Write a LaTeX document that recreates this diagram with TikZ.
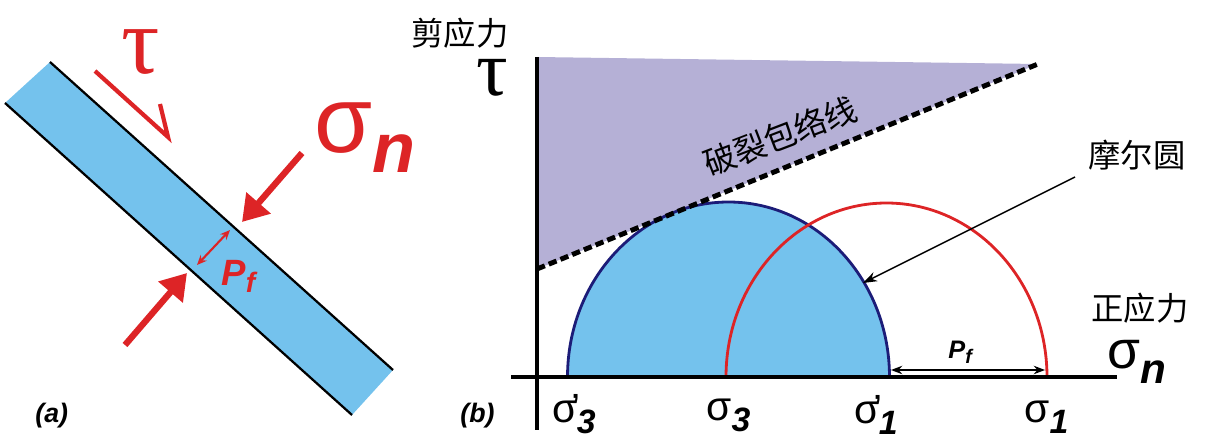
\documentclass[tikz,border=0pt]{standalone}
\usepackage{fontspec}
\setmainfont{Liberation Sans}
\newfontfamily\cjk{Noto Sans CJK SC}
\newfontfamily\grk{Liberation Serif}
\usepackage{xcolor}
\usepackage{tikz}
\usetikzlibrary{arrows.meta, positioning}

\definecolor{faultblue}{RGB}{116,194,237}
\definecolor{envpurple}{RGB}{181,176,214}
\definecolor{stressred}{RGB}{221,36,38}
\definecolor{mohrnavy}{RGB}{28,28,120}

\newcommand{\fsz}[1]{\fontsize{#1}{#1}\selectfont}
\newcommand{\bi}[1]{\textbf{\textit{#1}}}
% sigma with optional prime and bold italic index
\newcommand{\sigsub}[2]{σ#1\raisebox{-8pt}{\fsz{24pt}\bi{#2}}}
\newcommand{\prm}{\rlap{\kern-0.14em’}\kern-0.02em}

\begin{document}
\begin{tikzpicture}[x=0.025cm, y=0.025cm, >=Stealth, semithick]
    \tikzset{
      faultedge/.style={black, line width=1.6pt},
      bigarrow/.style={stressred, line width=4.5pt, -{Triangle[length=18pt,width=22pt]}},
      redlab/.style={text=stressred, inner sep=0pt},
      cjklab/.style={font=\cjk\fsz{23pt}, inner sep=0pt},
      sigbot/.style={anchor=base west, inner sep=0pt, font=\fsz{29pt}},
      axis/.style={black, line width=2.6pt}
    }
    \useasboundingbox (0,0) rectangle (1220,441);

    % --- PANEL (a) ---
    % Fault zone, tilted strip
    \coordinate (stripTL) at (50,379);
    \coordinate (stripL)  at (5,338);
    \coordinate (stripB)  at (352,26);
    \coordinate (stripR)  at (393,71);
    \fill[faultblue] (stripTL) -- (stripR) -- (stripB) -- (stripL) -- cycle;
    \draw[faultedge] (stripTL) -- (stripR);
    \draw[faultedge] (stripL) -- (stripB);

    % Shear half-arrow
    \coordinate (shearA) at (95,370);
    \coordinate (shearB) at (168,304);
    \coordinate (shearC) at (160,337);
    \draw[stressred, line width=3pt, miter limit=20] (shearA) -- (shearB) -- (shearC);

    % Normal stress arrows
    \coordinate (nUpTail) at (302,288);
    \coordinate (nUpTip)  at (242,219);
    \coordinate (nLoTail) at (125,96);
    \coordinate (nLoTip)  at (187,168);
    \draw[bigarrow] (nUpTail) -- (nUpTip);
    \draw[bigarrow] (nLoTail) -- (nLoTip);

    % Pore pressure across the zone
    \coordinate (pfTop) at (230,211);
    \coordinate (pfBot) at (197,176);
    \draw[stressred, line width=1.5pt, {Stealth[length=7pt,width=6pt]}-{Stealth[length=7pt,width=6pt]}] (pfTop) -- (pfBot);

    \node[redlab, font=\grk\fsz{68pt}] (tauA) at (141,389) {τ};
    \node[redlab, anchor=base west] (sigA) at (314,288) {\fsz{67pt}σ\raisebox{-14pt}{\fsz{50pt}\bi{n}}};
    \node[redlab, anchor=base west] (pfA) at (221,156) {\fsz{26pt}\bi{P}\raisebox{-5pt}{\fsz{20pt}\bi{f}}};
    \node[anchor=base west, inner sep=0pt] (labA) at (35,19) {\fsz{19pt}\bi{(a)}};

    % --- PANEL (b) ---
    \coordinate (yTop)   at (537,384);
    \coordinate (yBot)   at (537,11);
    \coordinate (xLeft)  at (511,64);
    \coordinate (xRight) at (1117,64);
    \coordinate (envStart) at (537,172);
    \coordinate (envEnd)   at (1038,377);

    % failure region
    \fill[envpurple] (yTop) -- (envEnd) -- (envStart) -- cycle;

    % Mohr circles (effective and total)
    \coordinate (s3p) at (567.5,64);
    \coordinate (s3)  at (726,64);
    \coordinate (s1p) at (889.5,64);
    \coordinate (s1)  at (1047,64);
    \filldraw[fill=faultblue, draw=mohrnavy, line width=2pt]
        (s3p) arc[start angle=180, end angle=0, x radius=161, y radius=175] -- cycle;
    \draw[stressred, line width=2pt]
        (s3) arc[start angle=180, end angle=0, x radius=160.5, y radius=174];

    % axes and envelope
    \draw[axis] (yTop) -- (yBot);
    \draw[axis] (xLeft) -- (xRight);
    \draw[black, line width=3.5pt, dash pattern=on 6pt off 3pt] (envStart) -- (envEnd);

    % Pf between the circles
    \coordinate (pfL) at (891,71);
    \coordinate (pfR) at (1045,71);
    \draw[line width=1.5pt, {Stealth[length=8pt,width=6pt]}-{Stealth[length=8pt,width=6pt]}] (pfL) -- (pfR);

    % pointer to Mohr circle
    \node[cjklab] (mohr) at (1137,286) {摩尔圆};
    \coordinate (mohrTail) at (1075,264);
    \coordinate (mohrTip)  at (863,158);
    \draw[line width=1pt, -{Stealth[length=10pt,width=7pt]}] (mohrTail) -- (mohrTip);

    % labels
    \node[cjklab] (shear) at (460,408) {剪应力};
    \node[inner sep=0pt, anchor=base, text height=27pt, text depth=0pt, font=\grk\fsz{56pt}] (tauB) at (492,345) {τ};
    \node[cjklab] (normal) at (1140,133) {正应力};
    \node[inner sep=0pt, anchor=base west] (sigB) at (1107,73) {\fsz{38pt}σ\raisebox{-11pt}{\fsz{30pt}\bi{n}}};
    \node[cjklab, rotate=21] (envlab) at (780,305) {破裂包络线};
    \node[anchor=base west, inner sep=0pt] (pfB) at (948,83) {\fsz{18pt}\bi{P}\raisebox{-4pt}{\fsz{14pt}\bi{f}}};

    \node[sigbot] (sig3p) at (552,19) {\sigsub{\prm}{3}};
    \node[sigbot] (sig3)  at (706,21) {\sigsub{}{3}};
    \node[sigbot] (sig1p) at (854,18) {\sigsub{\prm}{1}};
    \node[sigbot] (sig1)  at (1024,19) {\sigsub{}{1}};
    \node[anchor=base west, inner sep=0pt] (labB) at (460,19) {\fsz{19pt}\bi{(b)}};
\end{tikzpicture}
\end{document}
